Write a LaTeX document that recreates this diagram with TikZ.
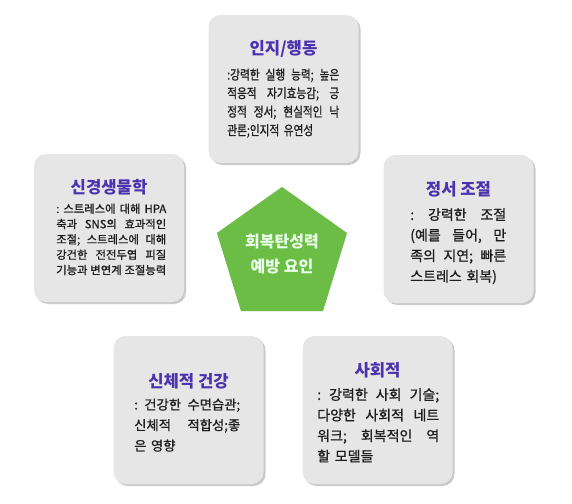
\documentclass[tikz,border=0pt]{standalone}
\usepackage{fontspec}
\setmainfont{Noto Sans CJK KR}
\newfontfamily\bodyfont{Noto Sans CJK KR}[FakeBold=1.0]
\newfontfamily\topfont{Noto Sans CJK KR}[FakeBold=1.0, FakeStretch=0.8]
\usetikzlibrary{shadows}
\definecolor{boxfill}{HTML}{E6E6E6}
\definecolor{titlecol}{HTML}{4B32B0}
\definecolor{pentgreen}{HTML}{6BBD45}
\definecolor{bodytext}{HTML}{1E1E1E}
\newcommand{\jline}[1]{\makebox[\linewidth][l]{#1}\\}
\tikzset{
  card/.style={draw=none, fill=boxfill, rounded corners=9pt, minimum width=112.5pt, minimum height=111pt,
    drop shadow={shadow xshift=1.5pt, shadow yshift=-1.5pt, fill=black!35, opacity=0.6}},
  cardtitle/.style={font=\fontsize{12.5}{14}\selectfont\bfseries, text=titlecol, inner sep=0pt},
  cardbody/.style={align=left, inner sep=0pt, anchor=north west, text=bodytext},
}
\begin{document}
\begin{tikzpicture}[x=0.75pt,y=-0.75pt]
\useasboundingbox (0,0) rectangle (572,504);
% cards
\node[card] (cog) at (283.5,89) {};
\node[card] (neuro) at (109,228) {};
\node[card] (emo) at (458.5,229) {};
\node[card] (phys) at (188.5,410) {};
\node[card] (soc) at (377.5,410) {};
% titles
\node[cardtitle] (cogt) at (283.5,49) {인지/행동};
\node[cardtitle] (neurot) at (109,187) {신경생물학};
\node[cardtitle] (emot) at (458.5,189) {정서 조절};
\node[cardtitle] (physt) at (188.5,381) {신체적 건강};
\node[cardtitle] (soct) at (377.5,370) {사회적};
% bodies
\node[cardbody, text width=84pt, font=\topfont\fontsize{10}{13.9}\selectfont] (cogb) at (227,68.3)
  {\jline{:강력한\hfill 실행\hfill 능력;\hfill 높은}\jline{적응적\hfill 자기효능감;\hfill 긍}\jline{정적\hfill 정서;\hfill 현실적인\hfill 낙}관론;인지적 유연성};
\node[cardbody, text width=82.5pt, font=\bodyfont\fontsize{8.5}{11.5}\selectfont] (neurob) at (56,203.3)
  {\jline{:\hfill 스트레스에\hfill 대해\hfill HPA}\jline{축과\hfill SNS의\hfill 효과적인}\jline{조절;\hfill 스트레스에\hfill 대해}\jline{강건한\hfill 전전두엽\hfill 피질}\jline{기능과\hfill 변연계\hfill 조절능력}};
\node[cardbody, text width=72pt, font=\bodyfont\fontsize{10.5}{15.4}\selectfont] (emob) at (410,208)
  {\jline{:\hfill 강력한\hfill 조절}\jline{(예를\hfill 들어,\hfill 만}\jline{족의\hfill 지연;\hfill 빠른}스트레스 회복)};
\node[cardbody, text width=79.5pt, font=\bodyfont\fontsize{10}{15.4}\selectfont] (physb) at (134,398.3)
  {\jline{:\hfill 건강한\hfill 수면습관;}\jline{신체적\hfill 적합성;좋}은 영향};
\node[cardbody, text width=91.5pt, font=\bodyfont\fontsize{10.5}{15.4}\selectfont] (socb) at (317,388)
  {\jline{:\hfill 강력한\hfill 사회\hfill 기술;}\jline{다양한\hfill 사회적\hfill 네트}\jline{워크;\hfill 회복적인\hfill 역}할 모델들};
% center pentagon
\coordinate (p1) at (282,187);
\coordinate (p2) at (347,233);
\coordinate (p3) at (323,311);
\coordinate (p4) at (241,311);
\coordinate (p5) at (217,233);
\fill[black!30, opacity=0.5, xshift=1pt, yshift=-1pt] (p1) -- (p2) -- (p3) -- (p4) -- (p5) -- cycle;
\fill[pentgreen] (p1) -- (p2) -- (p3) -- (p4) -- (p5) -- cycle;
\node[text=white!92!green, font=\fontsize{12}{18.75}\selectfont\bfseries, align=center] (coret) at (282,254.5) {회복탄성력\\예방 요인};
\end{tikzpicture}
\end{document}
